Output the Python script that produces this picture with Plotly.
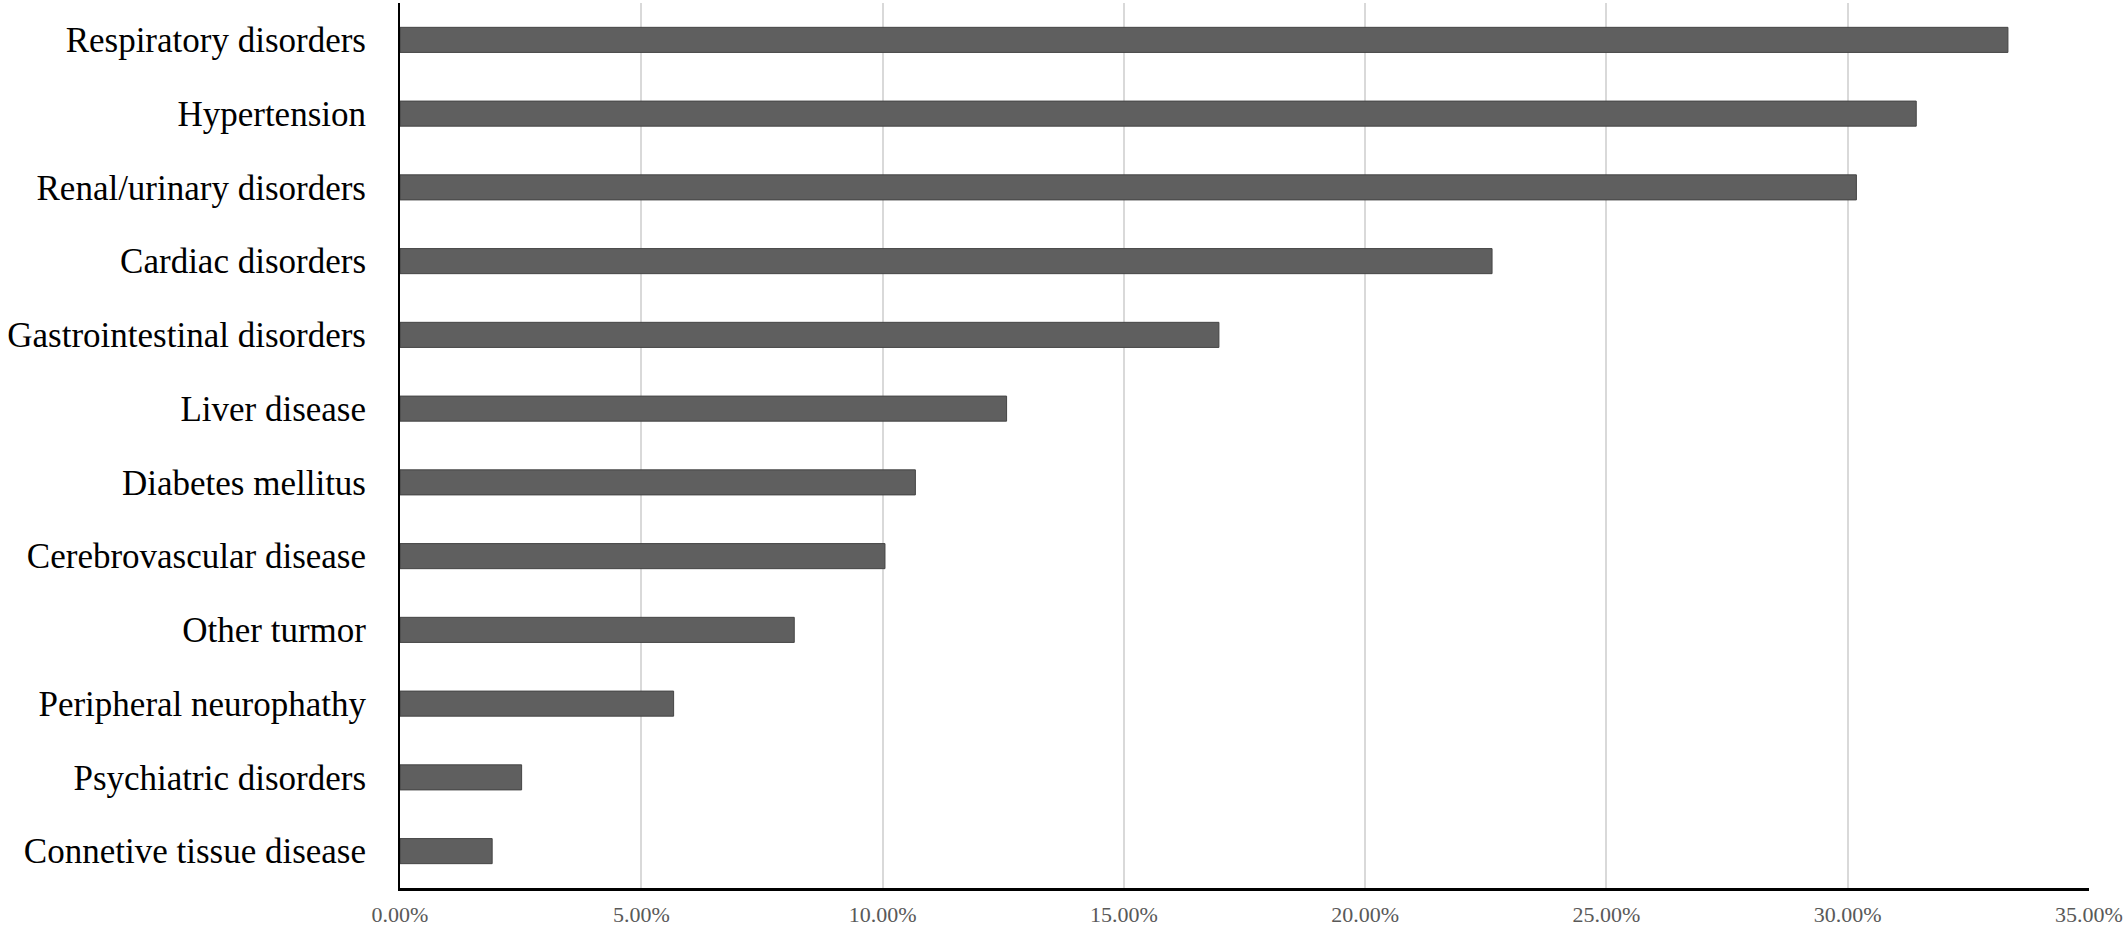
import plotly.graph_objects as go

categories = [
    "Respiratory disorders",
    "Hypertension",
    "Renal/urinary disorders",
    "Cardiac disorders",
    "Gastrointestinal disorders",
    "Liver disease",
    "Diabetes mellitus",
    "Cerebrovascular disease",
    "Other turmor",
    "Peripheral neurophathy",
    "Psychiatric disorders",
    "Connetive tissue disease",
]
percent_values = [33.32, 31.42, 30.18, 22.63, 16.97, 12.57, 10.68, 10.05, 8.17, 5.67, 2.52, 1.91]
x_ticks = [0, 5, 10, 15, 20, 25, 30, 35]

SERIF = "Liberation Serif, Times New Roman, serif"

fig = go.Figure(
    go.Bar(
        y=categories,
        x=percent_values,
        orientation="h",
        width=0.34,
        marker=dict(color="#5f5f5f", line=dict(color="#454545", width=1)),
        hoverinfo="x+y",
    )
)

fig.update_layout(
    width=2128,
    height=930,
    margin=dict(l=400, r=39, t=3, b=37),
    paper_bgcolor="white",
    plot_bgcolor="white",
    showlegend=False,
)

fig.update_xaxes(
    range=[0, 35],
    tickvals=x_ticks,
    ticktext=[f"{v:.2f}%" for v in x_ticks],
    showgrid=True,
    gridcolor="#d9d9d9",
    gridwidth=2,
    zeroline=False,
    showline=True,
    linecolor="black",
    linewidth=3,
    ticks="",
    tickfont=dict(family=SERIF, size=22, color="#595959"),
    ticklabelstandoff=5,
)

fig.update_yaxes(
    autorange="reversed",
    showgrid=False,
    zeroline=False,
    showline=True,
    linecolor="black",
    linewidth=2,
    ticks="",
    tickfont=dict(family=SERIF, size=35, color="black"),
    ticklabelstandoff=25,
)

fig.write_html(
    "out.html",
    config={"displayModeBar": False},
    post_script="document.body.style.margin='0';document.body.style.overflow='hidden';",
)
